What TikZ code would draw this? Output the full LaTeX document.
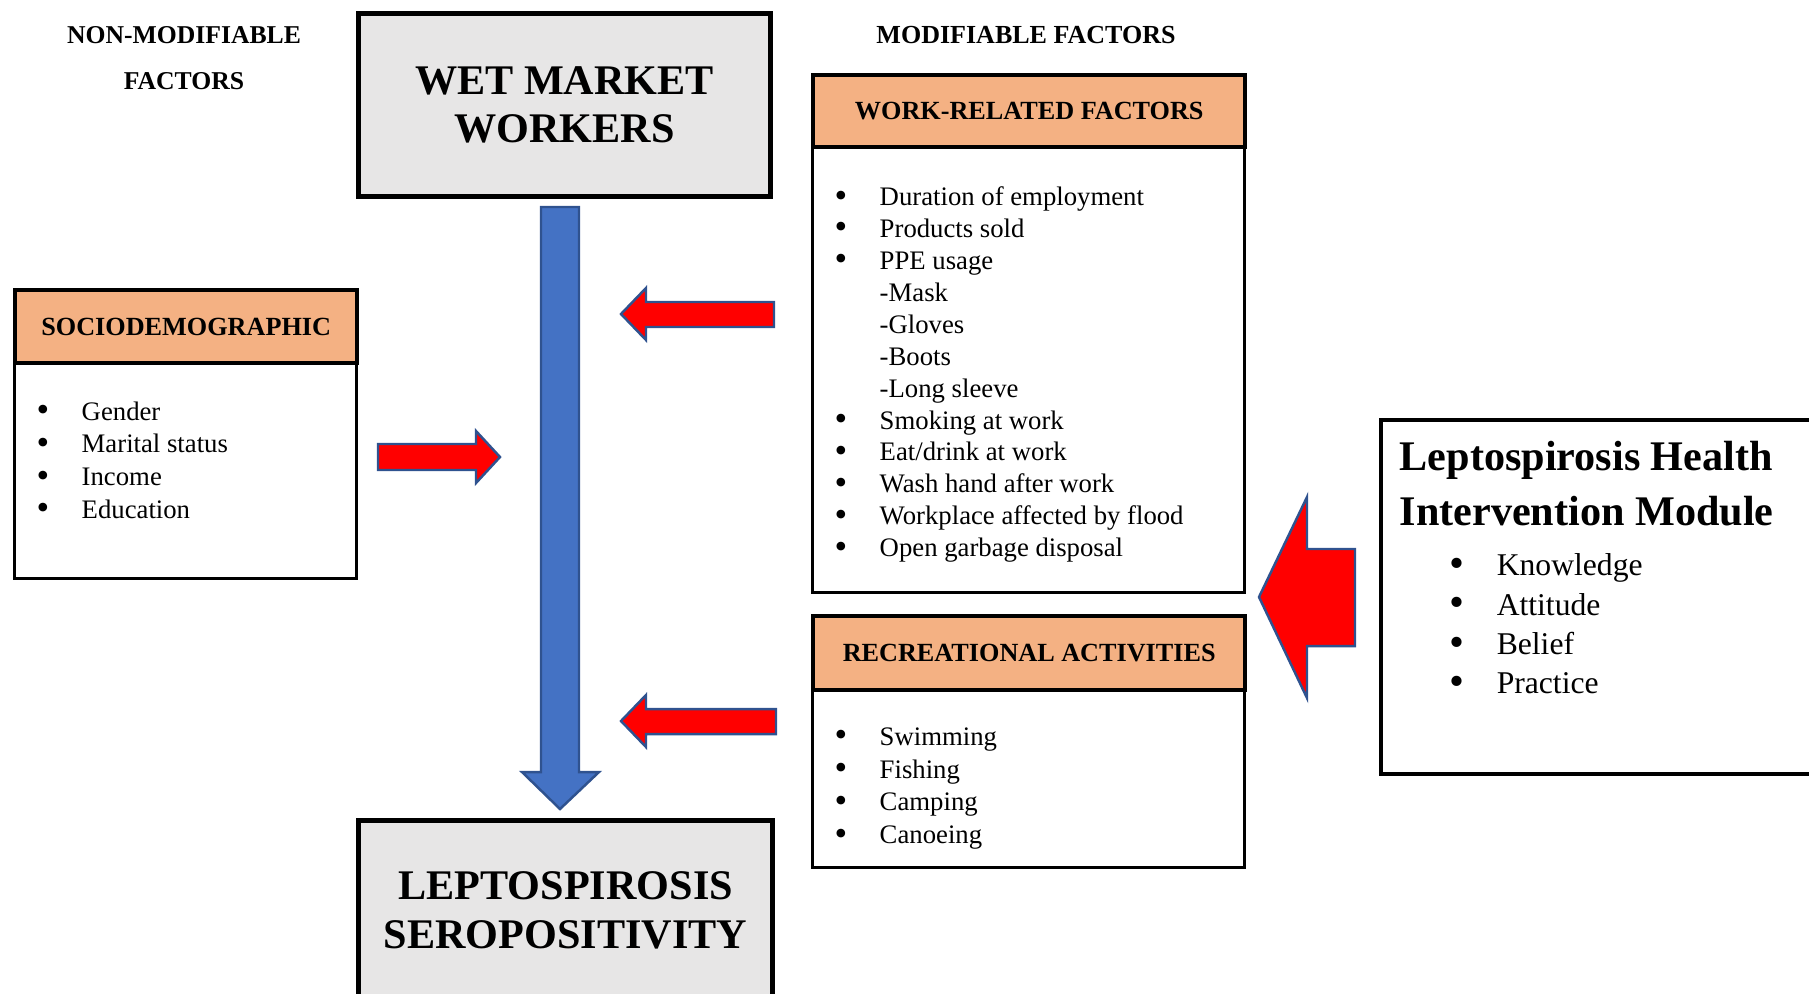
\documentclass[tikz,border=0pt]{standalone}
\usepackage{fontspec}
\setmainfont{Liberation Serif}
\usetikzlibrary{positioning,calc}

\definecolor{hdrfill}{HTML}{F4B183}
\definecolor{greyfill}{HTML}{E7E6E6}
\definecolor{shaftblue}{HTML}{4472C4}
\definecolor{edgeblue}{HTML}{2F528F}

\newcommand{\bigbul}{\raisebox{-0.12ex}{\scalebox{1.35}{\textbullet}}}
\newcommand{\itm}[1]{\makebox[0.45cm][l]{\bigbul}#1}
\newcommand{\subitm}[1]{\makebox[0.45cm][l]{}#1}

\begin{document}
\begin{tikzpicture}[
  x=0.01cm, y=-0.01cm,
  title/.style={draw,line width=1.4pt,fill=greyfill,anchor=north west,align=center,inner sep=0pt,font=\fontsize{12}{13.8}\selectfont\bfseries},
  hdr/.style={draw,line width=1.2pt,fill=hdrfill,anchor=north west,inner sep=0pt,font=\fontsize{7.45}{9}\selectfont\bfseries},
  body/.style={draw,line width=0.8pt,anchor=north west,inner sep=0pt},
  list/.style={anchor=north west,align=left,inner sep=0pt,font=\fontsize{7.6}{9.3}\selectfont},
  redarr/.style={fill=red,draw=edgeblue,line width=0.7pt,line join=miter},
  bluearr/.style={fill=shaftblue,draw=edgeblue,line width=0.7pt}
]
\useasboundingbox (0,0) rectangle (1809,993);
\clip (0,0) rectangle (1809,993);

% top labels
\node[font=\fontsize{7.3}{13.1}\selectfont\bfseries,align=center] (nonmod) at (184,58) {NON-MODIFIABLE\\FACTORS};
\node[font=\fontsize{7.4}{9}\selectfont\bfseries] (mod) at (1026,35) {MODIFIABLE FACTORS};

% main boxes
\node[title,minimum width=4.12cm,minimum height=1.83cm] (wmw) at (356,11) {WET MARKET\\WORKERS};
\node[title,minimum width=4.14cm,minimum height=1.80cm] (lss) at (356,818) {LEPTOSPIROSIS\\SEROPOSITIVITY};

% sociodemographic
\node[body,minimum width=3.42cm,minimum height=2.16cm] (sdbody) at (13,361) {};
\node[hdr,minimum width=3.42cm,minimum height=0.73cm] (sdhdr) at (13,288) {SOCIODEMOGRAPHIC};
\node[list] (sdlist) at (36,401) {\itm{Gender}\\\itm{Marital status}\\\itm{Income}\\\itm{Education}};

% work-related
\node[body,minimum width=4.32cm,minimum height=4.46cm] (wrbody) at (811,145) {};
\node[hdr,minimum width=4.32cm,minimum height=0.72cm] (wrhdr) at (811,73) {WORK-RELATED FACTORS};
\node[list,font=\fontsize{7.6}{9.08}\selectfont] (wrlist) at (834,186) {\itm{Duration of employment}\\\itm{Products sold}\\\itm{PPE usage}\\
  \subitm{-Mask}\\\subitm{-Gloves}\\\subitm{-Boots}\\\subitm{-Long sleeve}\\
  \itm{Smoking at work}\\\itm{Eat/drink at work}\\\itm{Wash hand after work}\\\itm{Workplace affected by flood}\\\itm{Open garbage disposal}};

% recreational
\node[body,minimum width=4.32cm,minimum height=1.78cm] (rabody) at (811,688) {};
\node[hdr,minimum width=4.32cm,minimum height=0.74cm] (rahdr) at (811,614) {RECREATIONAL ACTIVITIES};
\node[list] (ralist) at (834,727) {\itm{Swimming}\\\itm{Fishing}\\\itm{Camping}\\\itm{Canoeing}};

% intervention module
\node[body,line width=1.1pt,minimum width=4.6cm,minimum height=3.54cm] (lhim) at (1379,418) {};
\node[anchor=north west,align=left,inner sep=0pt,font=\fontsize{12}{15.6}\selectfont\bfseries] (lhimtitle) at (1399,441) {Leptospirosis Health\\Intervention Module};
\node[anchor=north west,align=left,inner sep=0pt,font=\fontsize{9}{11.2}\selectfont] (lhimlist) at (1449,553)
  {\makebox[0.47cm][l]{\bigbul}Knowledge\\\makebox[0.47cm][l]{\bigbul}Attitude\\\makebox[0.47cm][l]{\bigbul}Belief\\\makebox[0.47cm][l]{\bigbul}Practice};

% block arrows
\draw[bluearr] (560,809) -- (522,772) -- (541,772) -- (541,207) -- (579,207) -- (579,772) -- (599,772) -- cycle;
\draw[redarr] (621,314) -- (646,288) -- (646,302) -- (774,302) -- (774,327) -- (646,327) -- (646,340) -- cycle;
\draw[redarr] (621,721) -- (646,695) -- (646,709) -- (776,709) -- (776,734) -- (646,734) -- (646,747) -- cycle;
\draw[redarr] (500,457) -- (476,431) -- (476,444) -- (378,444) -- (378,470) -- (476,470) -- (476,483) -- cycle;
\draw[redarr] (1259,597) -- (1307,497) -- (1307,549) -- (1355,549) -- (1355,646) -- (1307,646) -- (1307,698) -- cycle;
\end{tikzpicture}
\end{document}
